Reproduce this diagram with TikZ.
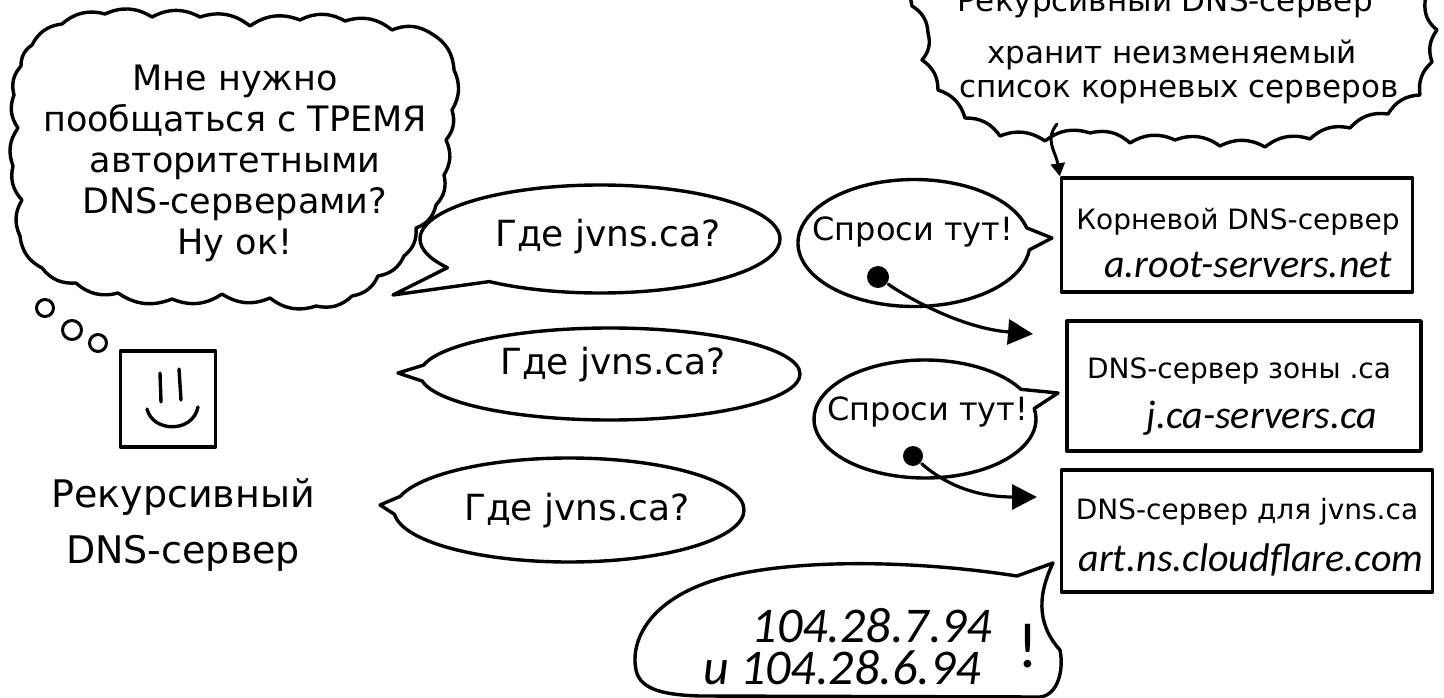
\documentclass[tikz,border=0pt]{standalone}
\usepackage{fontspec}
\setmainfont{DejaVu Sans}
\newfontfamily\handfont{Carlito}
\usepackage{tikz}
\usetikzlibrary{shapes.callouts}
\usetikzlibrary{arrows.meta}
\usetikzlibrary{positioning}
\newcommand\cloudtext{\fontsize{35}{41}\selectfont}
\newcommand\asktext{\fontsize{36}{40}\selectfont}
\newcommand\hinttext{\fontsize{32}{36}\selectfont}
\newcommand\nametext{\fontsize{38}{56}\selectfont}
\newcommand\notetext{\fontsize{31}{35}\selectfont}
\newcommand\srvtext{\fontsize{28}{30}\selectfont}
\newcommand\hosttext{\handfont\itshape\fontsize{40}{44}\selectfont}
\newcommand\iptext{\handfont\itshape\fontsize{50}{52}\selectfont}

\begin{document}
\begin{tikzpicture}[x=1pt, y=-1pt, line width=3.4pt, line join=round, line cap=round,
    puff/.style={bend left=28},
    says/.style={draw, ellipse callout, callout pointer arc=20, inner sep=0},
    serverbox/.style={draw, rectangle, inner sep=0},
    trail/.style={draw, circle, inner sep=0, line width=3pt},
    blob/.style={circle, fill, inner sep=0, minimum size=22pt},
    pointer/.style={-{Triangle[length=25pt, width=25pt]}, line width=3.2pt}]

    \useasboundingbox (0,0) rectangle (1444,698);
    \clip (0,0) rectangle (1444,698);
    \fill[white] (0,0) rectangle (1444,698);

    % the resolver and what it thinks
    \draw (32,45) to[puff] (62,24) to[puff] (105,14) to[puff] (152,17) to[puff] (200,17)
        to[puff] (250,26) to[puff] (300,20) to[puff] (345,21) to[puff] (392,30)
        to[puff] (432,34) to[puff] (454,70) to[puff] (452,110) to[puff] (446,140)
        to[puff] (444,175) to[puff] (436,205) to[puff] (416,228) to[puff] (404,256)
        to[puff] (378,276) to[puff] (352,296) to[puff] (316,306) to[puff] (270,298)
        to[puff] (222,294) to[puff] (172,299) to[puff] (118,293) to[puff] (76,283)
        to[puff] (42,268) to[puff] (20,236) to[puff] (22,200) to[puff] (13,166)
        to[puff] (18,128) to[puff] (14,95) to[puff] (21,66) to[puff] (32,45);
    \node[font=\cloudtext, align=center] (worrytext) at (235,163)
        {Мне нужно\\пообщаться с ТРЕМЯ\\авторитетными\\DNS-серверами?\\Ну ок!};
    \node[trail, minimum size=17] (trail1) at (45,308) {};
    \node[trail, minimum size=19] (trail2) at (72,330) {};
    \node[trail, minimum size=17] (trail3) at (98,343) {};

    \node[serverbox, minimum width=95, minimum height=96] (resolver) at (168,399) {};
    \draw (160,373) -- (161,402);
    \draw (179,369) -- (181,400);
    \draw (147,409) .. controls (153,433) and (193,433) .. (198,407);
    \node[font=\nametext, align=center] (resname) at (183,525) {Рекурсивный\\DNS-сервер};

    % three questions
    \node[says, minimum width=360, minimum height=108, callout absolute pointer={(393,295)}] (ask1) at (600,239) {};
    \node[font=\asktext] (ask1txt) at (608,237) {Где jvns.ca?};
    \node[says, minimum width=380, minimum height=92, callout absolute pointer={(398,373)}] (ask2) at (610,374) {};
    \node[font=\asktext] (ask2txt) at (613,365) {Где jvns.ca?};
    \node[says, minimum width=350, minimum height=104, callout absolute pointer={(380,505)}] (ask3) at (569,510) {};
    \node[font=\asktext] (ask3txt) at (577,511) {Где jvns.ca?};

    % referrals
    \node[says, minimum width=232, minimum height=127, callout absolute pointer={(1052,238)}] (hint1) at (914,243) {};
    \node[font=\hinttext] (hint1txt) at (913,232) {Спроси тут!};
    \node[says, minimum width=222, minimum height=118, callout absolute pointer={(1058,393)}] (hint2) at (925,419) {};
    \node[font=\hinttext] (hint2txt) at (928,412) {Спроси тут!};
    \node[blob] (tap1) at (878,277) {};
    \node[blob, minimum size=20pt] (tap2) at (913,456) {};

    % root hints
    \draw (905,-30) -- (912,6) to[puff] (928,33) to[puff] (922,60) to[puff] (938,90)
        to[puff] (965,118) to[puff] (1000,136) to[puff] (1045,141) to[puff] (1090,133)
        to[puff] (1130,143) to[puff] (1175,140) to[puff] (1220,146) to[puff] (1265,147)
        to[puff] (1310,139) to[puff] (1350,128) to[puff] (1388,114) to[puff] (1420,95)
        to[puff] (1432,62) to[puff] (1437,30) to[puff] (1425,2) -- (1430,-30);
    \node[font=\notetext, anchor=base] (note1) at (1165,12) {Рекурсивный DNS-сервер};
    \node[font=\notetext, anchor=base] (note2) at (1172,64) {хранит неизменяемый};
    \node[font=\notetext, anchor=base] (note3) at (1179,98) {список корневых серверов};

    % the servers
    \node[serverbox, minimum width=351, minimum height=114] (rootsrv) at (1237,235) {};
    \node[font=\srvtext] (rootname) at (1238,222) {Корневой DNS-сервер};
    \node[font=\hosttext] (roothost) at (1248,265) {a.root-servers.net};
    \node[serverbox, minimum width=354, minimum height=130] (zonesrv) at (1244,386) {};
    \node[font=\srvtext] (zonename) at (1239,371) {DNS-сервер зоны .ca};
    \node[font=\hosttext] (zonehost) at (1262,418) {j.ca-servers.ca};
    \node[serverbox, minimum width=371, minimum height=122] (authsrv) at (1247,531) {};
    \node[font=\srvtext] (authname) at (1247,512) {DNS-сервер для jvns.ca};
    \node[font=\hosttext] (authhost) at (1251,560) {art.ns.cloudflare.com};

    \coordinate (cloudtail) at (1057,124);
    \coordinate (zonehit) at (1033,334);
    \coordinate (authhit) at (1037,497);
    \draw[-{Triangle[length=13pt, width=14pt]}, line width=3pt] (cloudtail)
        .. controls (1044,140) and (1056,152) .. (rootsrv.north west);
    \draw[pointer] (tap1) .. controls (905,296) and (960,328) .. (zonehit);
    \draw[pointer] (tap2) .. controls (940,480) and (970,497) .. (authhit);

    % the answer
    \draw (1053,563) -- (1017,576)
        .. controls (900,558) and (780,560) .. (715,580)
        .. controls (650,600) and (630,640) .. (636,670)
        .. controls (640,690) and (665,695) .. (700,696)
        -- (1040,697)
        .. controls (1058,695) and (1064,670) .. (1060,650)
        .. controls (1040,628) and (1035,600) .. cycle;
    \node[font=\iptext, anchor=base, inner sep=0] (ipone) at (872,642) {104.28.7.94};
    \node[font=\iptext, anchor=base, inner sep=0] (iptwo) at (842,684) {и 104.28.6.94};
    \node[font=\handfont\fontsize{64}{64}\selectfont] (ipbang) at (1028,646) {!};
\end{tikzpicture}
\end{document}
